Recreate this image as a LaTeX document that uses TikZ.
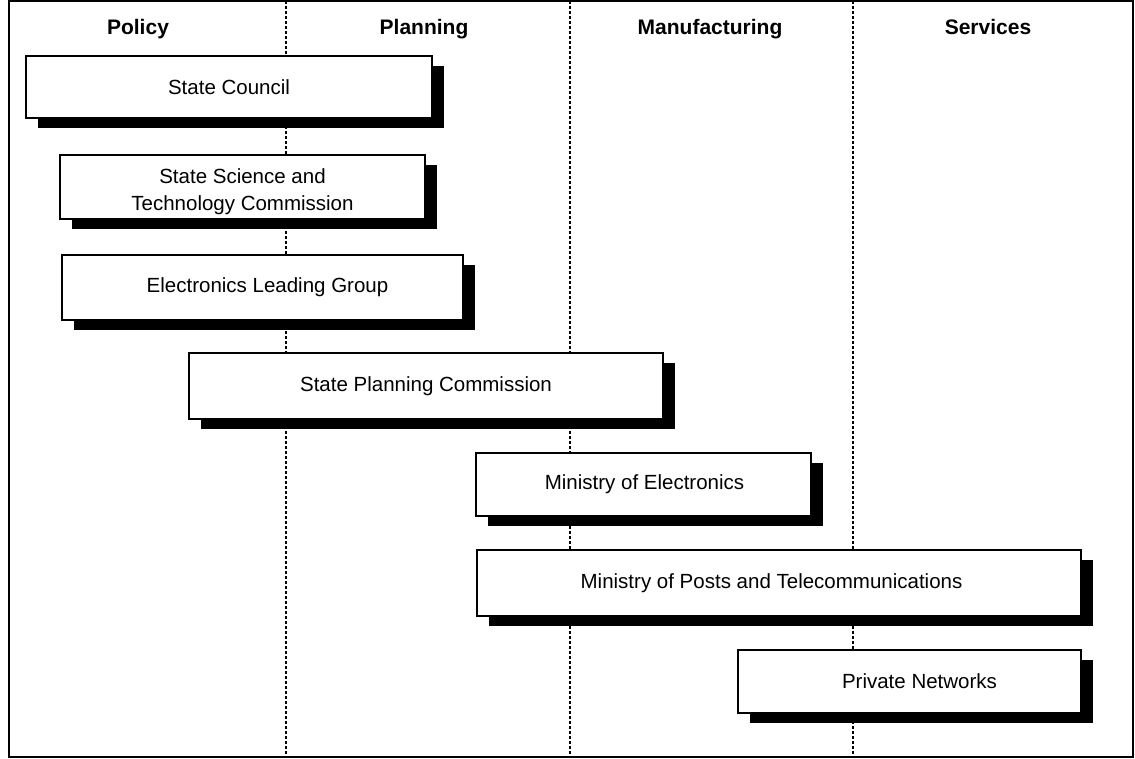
\documentclass[tikz,border=0pt]{standalone}
\usepackage{fontspec}
\setmainfont{Liberation Sans}
\usetikzlibrary{shadows}
\begin{document}
\begin{tikzpicture}[x=1pt,y=-1pt,
  orgbox/.style={draw=black, line width=1.2pt, fill=white, inner sep=0pt,
    align=center, font=\fontsize{20.5}{27}\selectfont,
    general shadow={fill=black, shadow xshift=12pt, shadow yshift=-10pt}},
  header/.style={font=\bfseries\fontsize{21}{24}\selectfont, inner sep=0pt, anchor=base},
  divider/.style={line width=1.1pt, dash pattern=on 3pt off 2pt},
  frame/.style={line width=1.6pt}]
\useasboundingbox (0,0) rectangle (1135,759);
\draw[frame] (9,1) rectangle (1133,757);
\coordinate (d1t) at (286,1); \coordinate (d1b) at (286,757);
\coordinate (d2t) at (570,1); \coordinate (d2b) at (570,757);
\coordinate (d3t) at (853,1); \coordinate (d3b) at (853,757);
\draw[divider] (d1t) -- (d1b);
\draw[divider] (d2t) -- (d2b);
\draw[divider] (d3t) -- (d3b);
\node[header] (hpol) at (138,35) {Policy};
\node[header] (hpla) at (424,35) {Planning};
\node[header] (hman) at (710,35) {Manufacturing};
\node[header] (hser) at (988,35) {Services};
\node[orgbox, minimum width=406pt, minimum height=62pt] (sc) at (229,87) {\raisebox{-2pt}{State Council}};
\node[orgbox, minimum width=365pt, minimum height=64pt] (sstc) at (242.5,187) {\rule{0pt}{24pt}State Science and\\Technology Commission};
\node[orgbox, minimum width=401pt, minimum height=65pt] (elg) at (262.5,287.5) {\hspace*{10pt}Electronics Leading Group};
\node[orgbox, minimum width=474pt, minimum height=66pt] (spc) at (426,386) {State Planning Commission};
\node[orgbox, minimum width=335pt, minimum height=63pt] (moe) at (643.5,484.5) {\hspace*{2pt}Ministry of Electronics};
\node[orgbox, minimum width=604pt, minimum height=66pt] (mpt) at (779,583) {Ministry of Posts and Telecommunications\hspace*{15pt}};
\node[orgbox, minimum width=343pt, minimum height=63pt] (pn) at (909.5,681.5) {\hspace*{20pt}Private Networks};
\end{tikzpicture}
\end{document}
